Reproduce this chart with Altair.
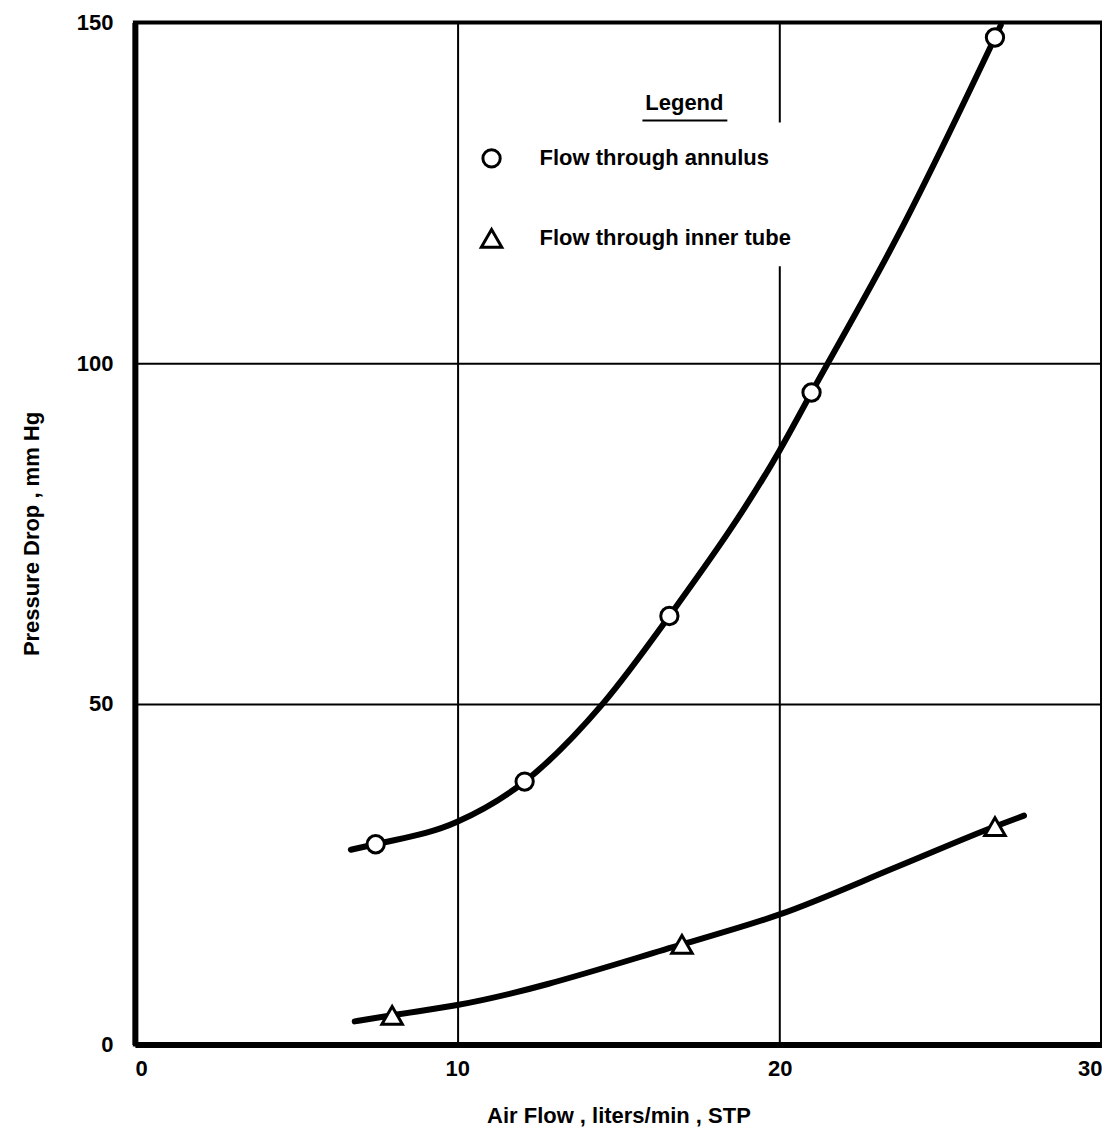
import altair as alt
import pandas as pd

# ---- data ----
series = ["Flow through annulus", "Flow through inner tube"]
shapes = ["circle", "triangle-up"]
legend_title = "Legend"

annulus_x = [7.47, 12.09, 16.58, 20.99, 26.68]
annulus_y = [29.4, 38.6, 62.9, 95.7, 147.8]
inner_x = [7.98, 16.97, 26.68]
inner_y = [4.3, 14.7, 32.0]

annulus_curve_x = [6.7, 7.47, 10.0, 12.09, 14.51, 16.58, 20.0, 20.99, 23.7, 26.68, 26.86]
annulus_curve_y = [28.6, 29.4, 32.7, 38.6, 50.0, 62.9, 87.2, 95.7, 119.0, 147.8, 149.6]
inner_curve_x = [6.82, 7.98, 10.0, 16.97, 20.0, 23.7, 26.68, 27.58]
inner_curve_y = [3.4, 4.3, 5.8, 14.7, 19.1, 26.2, 32.0, 33.6]

x_ticks = [0, 10, 20, 30]
y_ticks = [0, 50, 100, 150]

FONT = "Liberation Sans"

pts = pd.DataFrame(
    {"x": annulus_x + inner_x,
     "y": annulus_y + inner_y,
     "series": [series[0]] * len(annulus_x) + [series[1]] * len(inner_x)}
)
curves = pd.DataFrame(
    {"x": annulus_curve_x + inner_curve_x,
     "y": annulus_curve_y + inner_curve_y,
     "series": [series[0]] * len(annulus_curve_x) + [series[1]] * len(inner_curve_x)}
)
legend_df = pd.DataFrame({"series": series})
one = pd.DataFrame({"t": [legend_title]})

shape_scale = alt.Scale(domain=series, range=shapes)
size_scale = alt.Scale(domain=series, range=[300, 420])

xenc = alt.X("x:Q", scale=alt.Scale(domain=[0, 30], nice=False, zero=False),
             axis=alt.Axis(title="Air Flow , liters/min , STP", values=x_ticks, format="d",
                           titlePadding=26, labelPadding=14))
yenc = alt.Y("y:Q", scale=alt.Scale(domain=[0, 150], nice=False),
             axis=alt.Axis(title="Pressure Drop , mm Hg", values=y_ticks, format="d",
                           titlePadding=33, labelPadding=22))

lines = alt.Chart(curves).mark_line(
    color="black", strokeWidth=6, interpolate="monotone", strokeCap="round"
).encode(x=xenc, y=yenc, detail="series:N", order="x:Q")

points = alt.Chart(pts).mark_point(
    filled=True, fill="white", stroke="black", strokeWidth=3, opacity=1
).encode(
    x=xenc, y=yenc,
    shape=alt.Shape("series:N", scale=shape_scale, legend=None),
    size=alt.Size("series:N", scale=size_scale, legend=None),
)

# ---- legend (drawn as marks inside the plot) ----
leg_y = alt.Y("series:N", scale=alt.Scale(domain=series, range=[136, 216], padding=0),
              axis=None)

leg_bg = alt.Chart(one).mark_rect(fill="white").encode(
    x=alt.value(340), x2=alt.value(682), y=alt.value(100), y2=alt.value(244)
)
leg_title = alt.Chart(one).mark_text(
    font=FONT, fontSize=22, fontWeight="bold", color="black", align="center",
    baseline="alphabetic"
).encode(x=alt.value(550), y=alt.value(88), text="t:N")
leg_line = alt.Chart(one).mark_rule(color="black", strokeWidth=2).encode(
    x=alt.value(508), x2=alt.value(593), y=alt.value(98)
)
leg_sym = alt.Chart(legend_df).mark_point(
    filled=True, fill="white", stroke="black", strokeWidth=3, opacity=1
).encode(
    x=alt.value(357), y=leg_y,
    shape=alt.Shape("series:N", scale=shape_scale, legend=None),
    size=alt.Size("series:N", scale=size_scale, legend=None),
)
leg_txt = alt.Chart(legend_df).mark_text(
    font=FONT, fontSize=22, fontWeight="bold", color="black", align="left",
    baseline="middle"
).encode(x=alt.value(405), y=leg_y, text="series:N")

main_layer = alt.layer(lines, leg_bg, leg_title, leg_line, points)
legend_layer = alt.layer(leg_sym, leg_txt)

chart = alt.layer(main_layer, legend_layer).resolve_scale(
    y="independent"
).properties(
    width=968, height=1023,
    background="white",
    autosize=alt.AutoSizeParams(type="none"),
    padding={"left": 127, "top": 14, "right": 0, "bottom": 95},
).configure_view(
    stroke="black", strokeWidth=4
).configure_axis(
    grid=True, gridColor="black", gridWidth=2, gridOpacity=1,
    domain=True, domainColor="black", domainWidth=6,
    ticks=False, tickSize=0,
    labelFont=FONT, labelFontSize=22, labelFontWeight="bold", labelColor="black",
    titleFont=FONT, titleFontSize=22, titleFontWeight="bold", titleColor="black",
)

chart.save("out.html", embed_options={"renderer": "svg", "actions": False})
